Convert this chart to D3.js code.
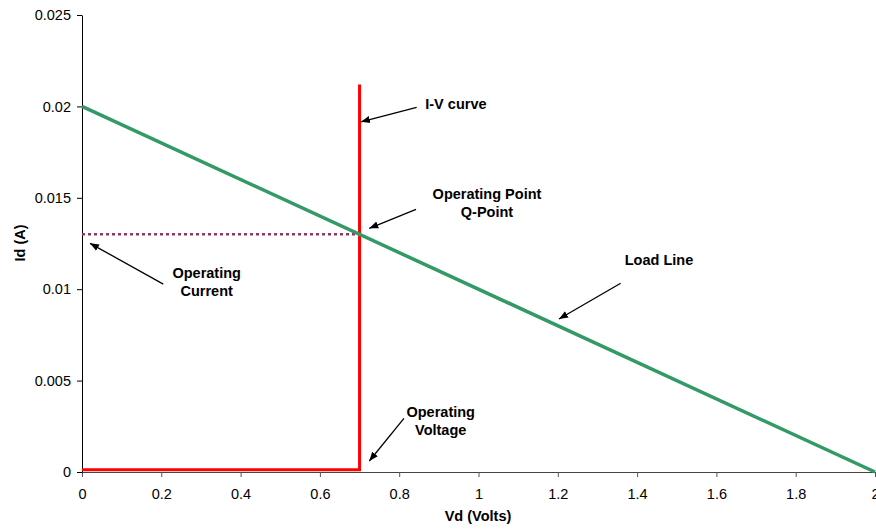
<!DOCTYPE html>
<html><head><meta charset="utf-8">
<script src="https://cdn.jsdelivr.net/npm/d3@7"></script>
<style>body{margin:0;background:#fff}svg{display:block}text{font-family:Arial,"Liberation Sans",sans-serif}</style>
</head><body>
<svg id="c" width="876" height="529"></svg>
<script>
const xTicks = [0,0.2,0.4,0.6,0.8,1,1.2,1.4,1.6,1.8,2];
const xTickLabels = ["0","0.2","0.4","0.6","0.8","1","1.2","1.4","1.6","1.8","2"];
const yTicks = [0,0.005,0.01,0.015,0.02,0.025];
const yTickLabels = ["0","0.005","0.01","0.015","0.02","0.025"];
const loadLine = [[0,0.02],[2,0]];
const ivCurve = [[0,0.00012],[0.7,0.00012],[0.7,0.0212]];
const operatingCurrent = [[0,0.013],[0.7,0.013]];
// annotations: text lines, text anchor (data), arrow start, arrow tip (data)
const annotations = [
  {lines:["I-V curve"], at:[0.943,0.01986], from:[0.844,0.01995], to:[0.7037,0.01916]},
  {lines:["Operating Point","Q-Point"], at:[1.0214,0.014934], from:[0.8424,0.01437], to:[0.7246,0.01333]},
  {lines:["Operating","Current"], at:[0.3145,0.010613], from:[0.205,0.01028], to:[0.0202,0.01251]},
  {lines:["Operating","Voltage"], at:[0.9047,0.003025], from:[0.812,0.002938], to:[0.7246,0.000602]},
  {lines:["Load Line"], at:[1.4552,0.011324], from:[1.3586,0.010323], to:[1.203,0.00837]}
];

const svg = d3.select("#c");
const x = d3.scaleLinear().domain([0,2]).range([82,875]);
const y = d3.scaleLinear().domain([0,0.025]).range([472,15]);
const FS = "14.5px";

svg.append("defs").append("marker")
  .attr("id","ah").attr("viewBox","0 0 10 10").attr("refX",10).attr("refY",5)
  .attr("markerWidth",9).attr("markerHeight",9).attr("markerUnits","userSpaceOnUse")
  .attr("orient","auto")
  .append("path").attr("d","M0,1 L10,5 L0,9 Z").attr("fill","#000");

// axes
const gx = svg.append("g").attr("transform","translate(0,472)")
  .call(d3.axisBottom(x).tickValues(xTicks).tickFormat((d,i)=>xTickLabels[i]).tickSize(5).tickSizeOuter(0));
gx.select(".domain").attr("stroke","#444");
gx.selectAll(".tick line").attr("stroke","#555");
gx.selectAll(".tick text").attr("font-size",FS).attr("fill","#000").attr("dy","1.3em");

const gy = svg.append("g").attr("transform","translate(82,0)")
  .call(d3.axisLeft(y).tickValues(yTicks).tickFormat((d,i)=>yTickLabels[i]).tickSize(5).tickSizeOuter(0));
gy.select(".domain").attr("stroke","#000");
gy.selectAll(".tick line").attr("stroke","#000");
gy.selectAll(".tick text").attr("font-size",FS).attr("fill","#000").attr("x",-11);

const line = d3.line().x(d=>x(d[0])).y(d=>y(d[1]));

svg.append("path").datum(operatingCurrent).attr("d",line)
  .attr("fill","none").attr("stroke","#993366").attr("stroke-width",2.5).attr("stroke-dasharray","3,3");
svg.append("path").datum(ivCurve).attr("d",line)
  .attr("fill","none").attr("stroke","#ff0000").attr("stroke-width",3);
svg.append("path").datum(loadLine).attr("d",line)
  .attr("fill","none").attr("stroke","#339966").attr("stroke-width",3.5);

// annotations
annotations.forEach(a=>{
  svg.append("line").attr("x1",x(a.from[0])).attr("y1",y(a.from[1]))
    .attr("x2",x(a.to[0])).attr("y2",y(a.to[1]))
    .attr("stroke","#000").attr("stroke-width",1.3).attr("marker-end","url(#ah)");
  const t = svg.append("text").attr("text-anchor","middle").attr("font-size",FS).attr("font-weight","bold");
  a.lines.forEach((l,i)=>{
    t.append("tspan").attr("x",x(a.at[0])).attr("y",y(a.at[1])+i*18).text(l);
  });
});

// axis titles
svg.append("text").attr("x",478).attr("y",521).attr("text-anchor","middle")
  .attr("font-size",FS).attr("font-weight","bold").text("Vd (Volts)");
svg.append("text").attr("transform","translate(25,243) rotate(-90)").attr("text-anchor","middle")
  .attr("font-size",FS).attr("font-weight","bold").text("Id (A)");
</script>
</body></html>
